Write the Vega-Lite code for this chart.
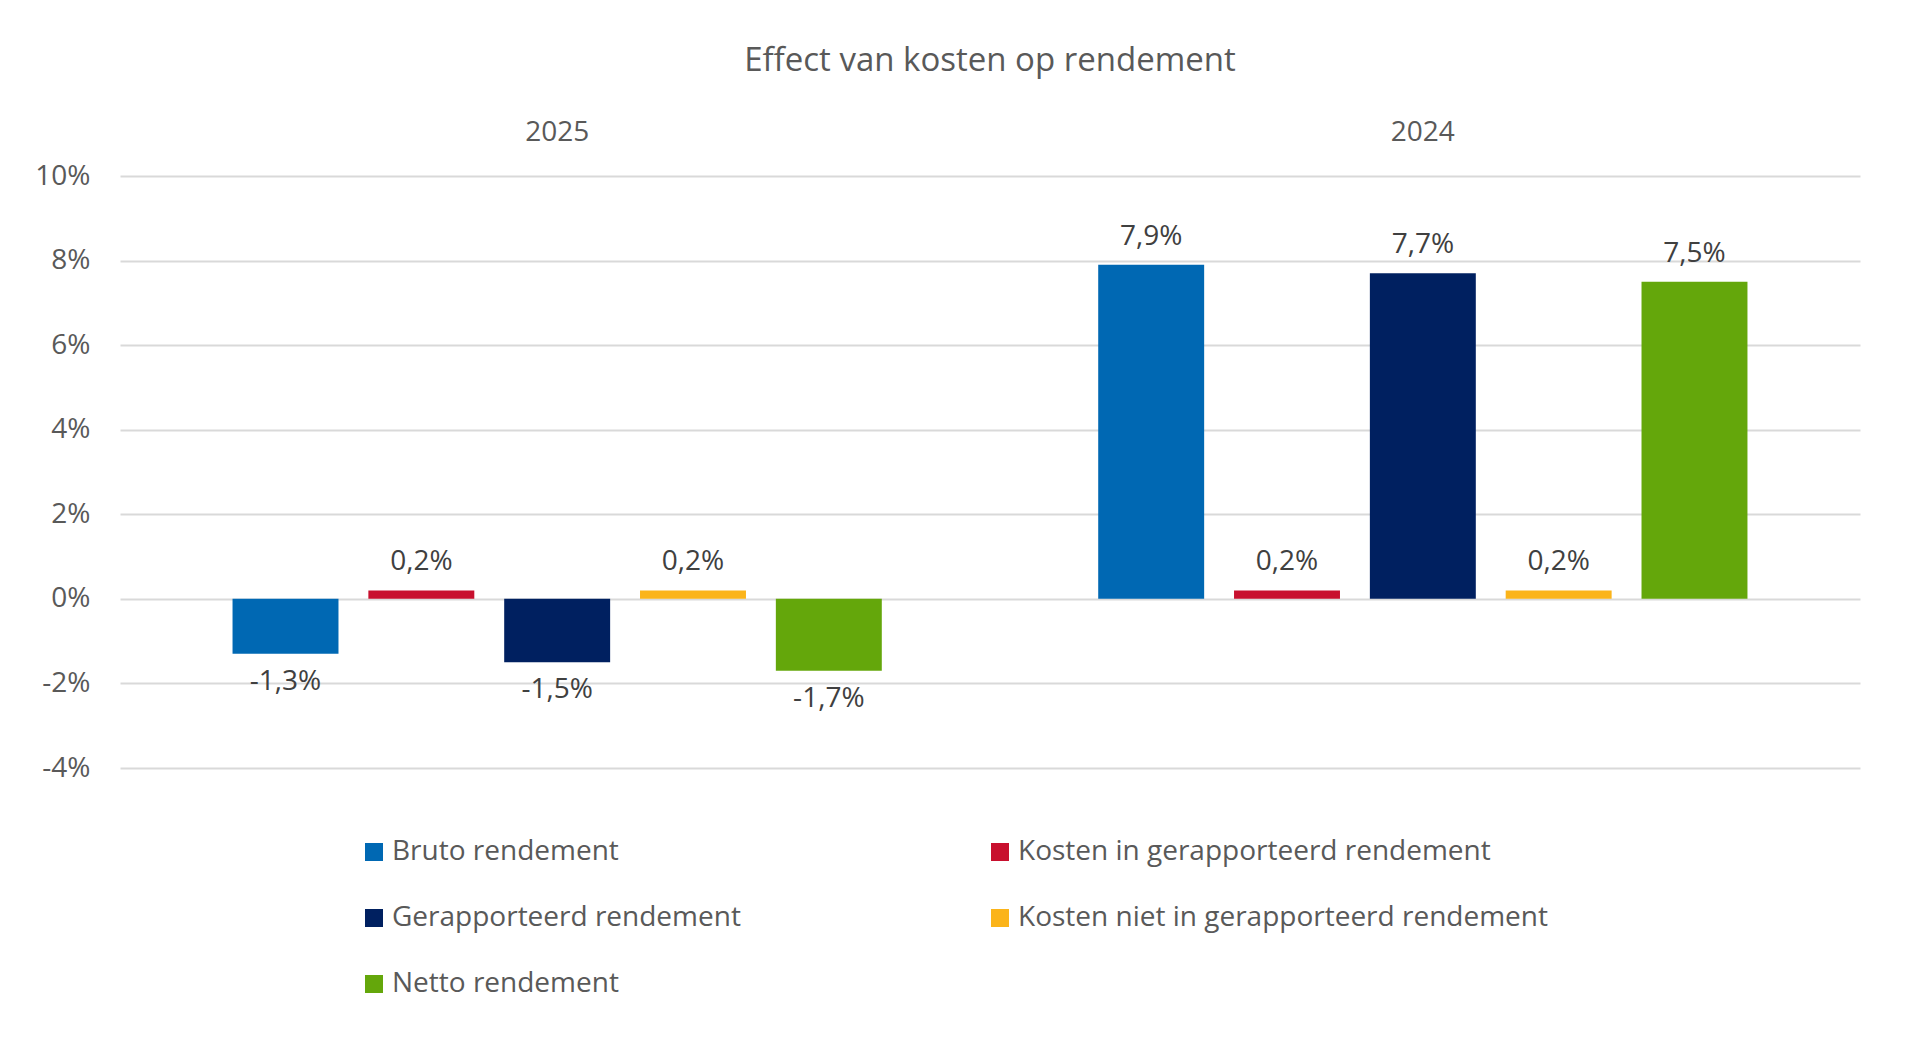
{
  "$schema": "https://vega.github.io/schema/vega-lite/v6.json",
  "width": 1740,
  "height": 592,
  "padding": {"left": 34, "top": 45, "right": 40, "bottom": 30},
  "title": {"text": "Effect van kosten op rendement", "fontSize": 33, "font": "Open Sans", "fontWeight": "normal", "color": "#595959", "offset": 40},
  "config": {"view": {"stroke": null}, "font": "Open Sans"},
  "data": {"values": [
    {"year": "2025", "series": "Bruto rendement", "value": -1.3, "label": "-1,3%"},
    {"year": "2025", "series": "Kosten in gerapporteerd rendement", "value": 0.2, "label": "0,2%"},
    {"year": "2025", "series": "Gerapporteerd rendement", "value": -1.5, "label": "-1,5%"},
    {"year": "2025", "series": "Kosten niet in gerapporteerd rendement", "value": 0.2, "label": "0,2%"},
    {"year": "2025", "series": "Netto rendement", "value": -1.7, "label": "-1,7%"},
    {"year": "2024", "series": "Bruto rendement", "value": 7.9, "label": "7,9%"},
    {"year": "2024", "series": "Kosten in gerapporteerd rendement", "value": 0.2, "label": "0,2%"},
    {"year": "2024", "series": "Gerapporteerd rendement", "value": 7.7, "label": "7,7%"},
    {"year": "2024", "series": "Kosten niet in gerapporteerd rendement", "value": 0.2, "label": "0,2%"},
    {"year": "2024", "series": "Netto rendement", "value": 7.5, "label": "7,5%"}
  ]},
  "encoding": {
    "x": {"field": "year", "type": "nominal", "sort": ["2025", "2024"], "title": null,
      "scale": {"paddingInner": 0.25, "paddingOuter": 0.13},
      "axis": {"orient": "top", "ticks": false, "domain": false, "labelAngle": 0, "labelFontSize": 28, "labelColor": "#595959", "labelPadding": 30}},
    "xOffset": {"field": "series", "type": "nominal", "sort": null, "scale": {"paddingInner": 0.22}},
    "y": {"field": "value", "type": "quantitative", "title": null,
      "scale": {"domain": [-4, 10], "nice": false},
      "axis": {"values": [-4, -2, 0, 2, 4, 6, 8, 10], "labelExpr": "datum.value + '%'", "ticks": false, "domain": false, "gridColor": "#d9d9d9", "gridWidth": 2, "labelFontSize": 28, "labelColor": "#595959", "labelPadding": 30}}
  },
  "layer": [
    {
      "mark": "bar",
      "encoding": {
        "color": {"field": "series", "type": "nominal", "sort": null,
          "scale": {"domain": ["Bruto rendement", "Kosten in gerapporteerd rendement", "Gerapporteerd rendement", "Kosten niet in gerapporteerd rendement", "Netto rendement"],
            "range": ["#0068b3", "#c8102e", "#002060", "#fbb41a", "#64a70b"]},
          "legend": {"title": null, "orient": "none", "legendX": 240, "legendY": 662, "columns": 2,
            "values": ["Bruto rendement", "Gerapporteerd rendement", "Netto rendement", "Kosten in gerapporteerd rendement", "Kosten niet in gerapporteerd rendement"],
            "symbolType": "square", "symbolSize": 324, "labelFontSize": 28, "labelColor": "#595959", "labelLimit": 600, "columnPadding": 245, "rowPadding": 38}}
      }
    },
    {
      "transform": [{"filter": "datum.value >= 0"}],
      "mark": {"type": "text", "baseline": "bottom", "dy": -14, "fontSize": 28, "color": "#404040"},
      "encoding": {"text": {"field": "label"}}
    },
    {
      "transform": [{"filter": "datum.value < 0"}],
      "mark": {"type": "text", "baseline": "top", "dy": 14, "fontSize": 28, "color": "#404040"},
      "encoding": {"text": {"field": "label"}}
    }
  ]
}
